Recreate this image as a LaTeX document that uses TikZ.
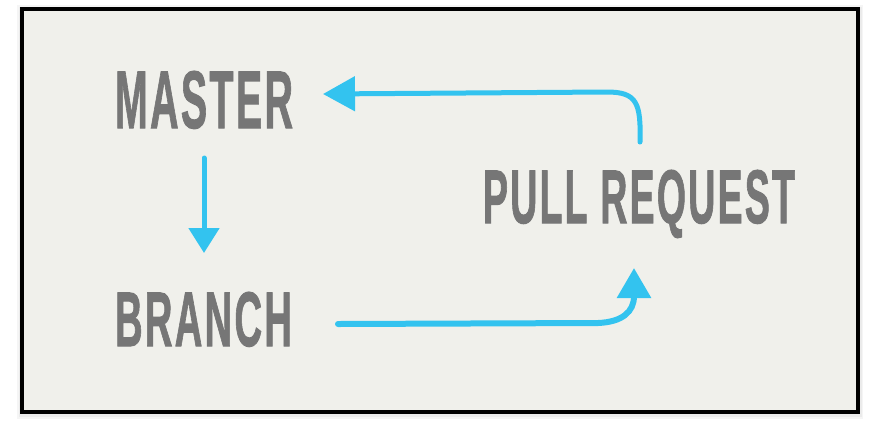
\documentclass[tikz,border=0pt]{standalone}
\usepackage{fontspec}
\usepackage{graphicx}
\usetikzlibrary{arrows.meta}
\newfontfamily\lblfont[FakeBold=1.5, LetterSpace=6]{Liberation Sans Bold}
\definecolor{bgfill}{HTML}{F0F0EB}
\definecolor{lblgray}{HTML}{767676}
\definecolor{arrblue}{HTML}{33C3EF}
\tikzset{
  lbl/.style={inner sep=0pt, outer sep=0pt, anchor=base west, text=lblgray, font=\lblfont},
  flow/.style={draw=arrblue, line width=5.5pt, line cap=round, line join=round},
}
\begin{document}
\begin{tikzpicture}[x=1pt, y=-1pt]
\useasboundingbox (0,0) rectangle (882,432);
\fill[white] (0,0) rectangle (882,432);
% soft shadow
\draw[black!4, line width=10pt] (22,10) rectangle (858,414);
\draw[black!8, line width=7pt] (22,10) rectangle (858,413);
% panel
\filldraw[fill=bgfill, draw=black, line width=4pt] (22,9) rectangle (858,412);
% labels
\node[lbl] (master) at (115,128) {\resizebox{178pt}{57pt}{MASTER}};
\node[lbl] (branch) at (115,346) {\resizebox{177pt}{54pt}{BRANCH}};
\node[lbl] (pr) at (483,223) {\resizebox{312pt}{53pt}{PULL REQUEST}};
% connector end points
\coordinate (prtop) at (640,142);
\coordinate (masterend) at (323,94);
\coordinate (masterbot) at (204,158);
\coordinate (branchtop) at (204,253);
\coordinate (branchend) at (338,324);
\coordinate (prbot) at (634,268);
% arrows
\draw[flow, line width=5pt, -{Triangle[length=32pt, width=34pt]}]
  (prtop) .. controls (641,103) and (637,92) .. (607,92) -- (masterend);
\draw[flow, line width=5pt, -{Triangle[length=25pt, width=30pt]}]
  (masterbot) -- (branchtop);
\draw[flow, line width=6pt, -{Triangle[length=30pt, width=33pt]}]
  (branchend) -- (598,323) .. controls (622,322) and (634,312) .. (634,296) -- (prbot);
\end{tikzpicture}
\end{document}
